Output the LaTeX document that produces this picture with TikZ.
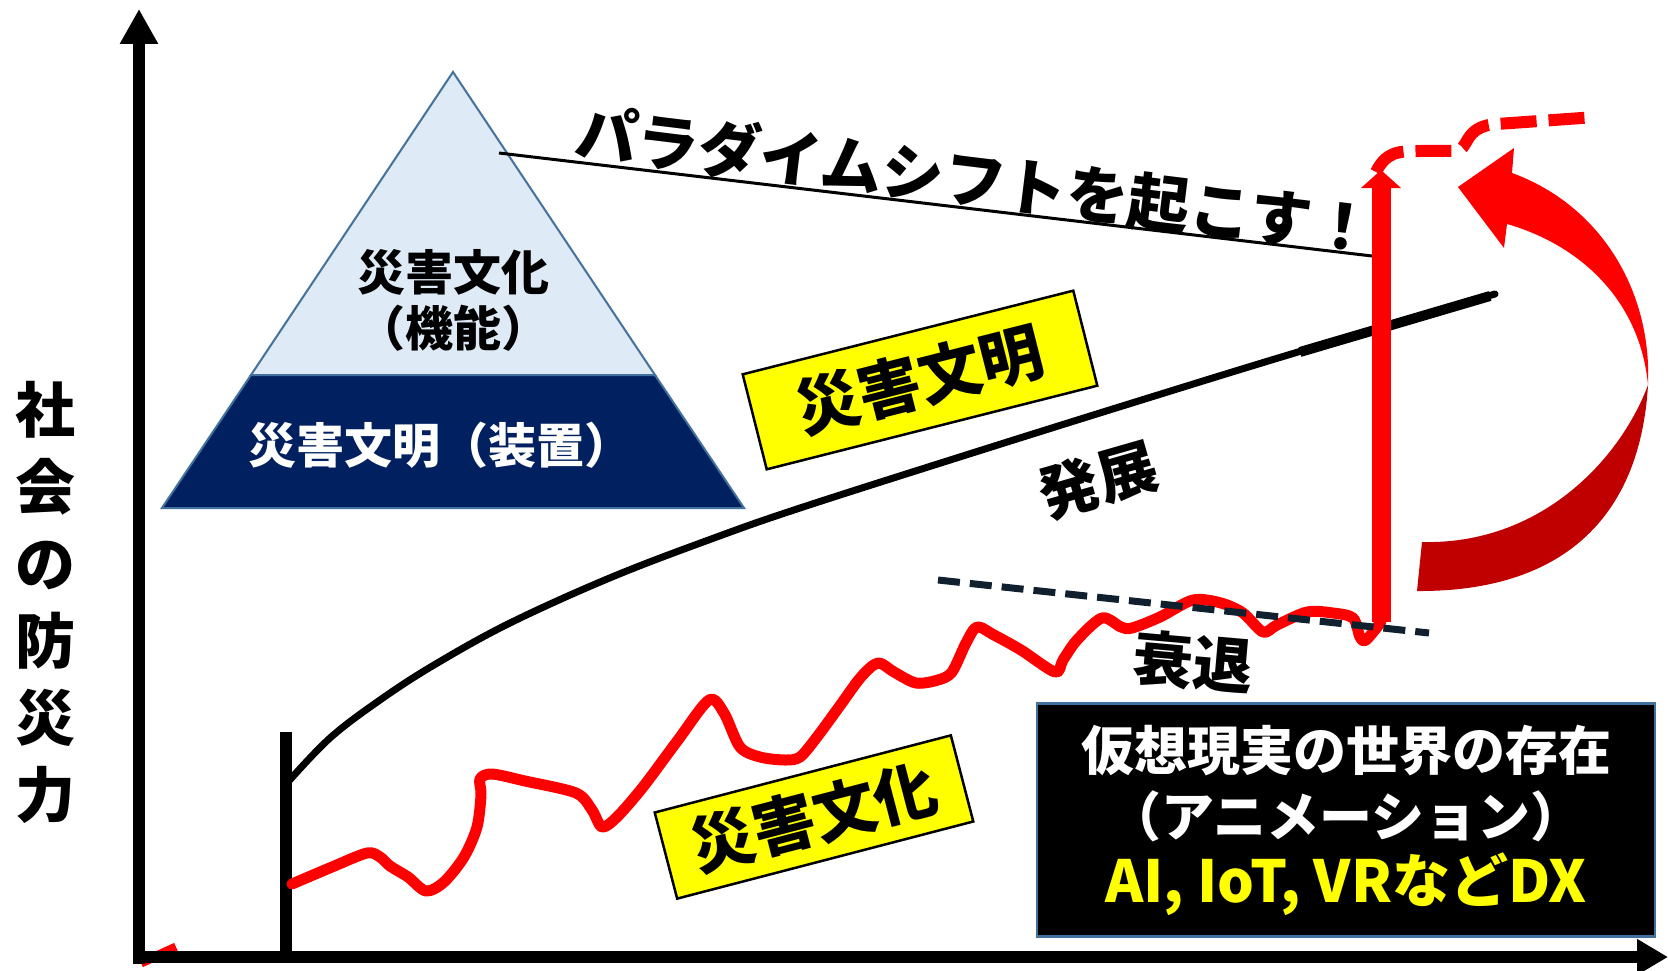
\documentclass[tikz,border=0pt]{standalone}
\usepackage{fontspec}
\newfontfamily\jp{Noto Sans CJK JP}
\usetikzlibrary{arrows.meta}
\definecolor{pyrlight}{HTML}{DEEBF7}
\definecolor{pyrdark}{HTML}{002060}
\definecolor{pyredge}{HTML}{41719C}
\definecolor{dashnavy}{HTML}{10202F}
\definecolor{darkred}{HTML}{C00000}
\definecolor{brightred}{HTML}{FF0000}
\definecolor{hiyellow}{HTML}{FFFF00}
\newcommand\jpsize[2]{\jp\bfseries\fontsize{#1}{#2}\selectfont}
\begin{document}
\begin{tikzpicture}[x=1pt,y=-1pt,
  axisline/.style={line width=12pt},
  jplabel/.style={inner sep=0pt, font=\jpsize{60}{72}},
  pyrtext/.style={inner sep=0pt, font=\jpsize{48}{56}},
  ybox/.style={draw=black, line width=2.5pt, fill=hiyellow, inner sep=0pt, font=\jpsize{63}{70}},
  redline/.style={brightred, line width=11pt, line join=round, line cap=round},
]
\useasboundingbox[fill=white] (0,0) rectangle (1668,971);

% coordinates
\coordinate (origin) at (139,957);
\coordinate (ytip) at (139,9);
\coordinate (xstart) at (133,957);
\coordinate (xtip) at (1668,957);
\coordinate (startbot) at (286,957);
\coordinate (starttop) at (286,732);
\coordinate (redfoot) at (1381,622);
\coordinate (redtop) at (1381,170);
\coordinate (pl1) at (499,153);
\coordinate (pl2) at (1372,256);
\coordinate (dl1) at (938,580);
\coordinate (dl2) at (1429,633);

% small red wedge at the origin
\draw[brightred, line width=9pt] (141,963) -- (176,947);

% axes
\draw[axisline, -{Triangle[width=36pt,length=35pt]}] (139,964) -- (ytip);
\draw[axisline, -{Triangle[width=34pt,length=31pt]}] (xstart) -- (xtip);
\draw[axisline] (startbot) -- (starttop);

% y label
\node[jplabel, align=center, font=\jpsize{60}{77}] (ylab) at (45,602) {社\\会\\の\\防\\災\\力};

% pyramid
\filldraw[fill=pyrlight, draw=pyredge, line width=2pt] (453,72) -- (655,375) -- (251,375) -- cycle;
\filldraw[fill=pyrdark, draw=pyredge, line width=2pt] (251,375) -- (655,375) -- (744,508) -- (162,508) -- cycle;
\node[pyrtext] (pcult) at (453,272) {災害文化};
\node[pyrtext] (pfunc) at (453,328) {（機能）};
\node[pyrtext, text=white] (pcivil) at (440,445) {災害文明（装置）};

% paradigm line and text
\draw[line width=3pt] (pl1) -- (pl2);
\node[jplabel, font=\jpsize{62}{70}, rotate=-7] (paradigm) at (975,180) {パラダイムシフトを起こす！};

% black development curve
\draw[line width=7pt, line cap=round] plot[smooth, tension=0.6] coordinates {(288,782) (330,738) (380,700) (434,665) (510,623) (612,577) (714,538) (800,508) (966,455) (1132,403) (1298,352) (1495,294)};
\draw[line width=10pt] (1300,352) -- (1490,296);

% red culture curve
\draw[redline] plot[smooth, tension=0.5] coordinates {(292,884) (332,867) (367,853) (380,857) (390,866) (408,877) (426,891) (444,882) (464,857) (477,827) (481,795) (480,779) (492,774) (525,781) (576,793) (592,810) (602,827) (617,817) (643,787) (678,740) (709,700) (724,713) (740,747) (760,757) (785,760) (800,757) (817,737) (839,707) (861,677) (878,663) (894,672) (916,683) (938,680) (952,672) (966,643) (977,627) (994,635) (1021,650) (1055,672) (1063,660) (1077,640) (1102,618) (1121,627) (1132,628) (1160,617) (1193,600) (1221,603) (1243,613) (1263,632) (1277,625) (1307,612) (1333,613) (1353,618) (1360,637) (1366,640) (redfoot)};

% dashed trend line
\draw[dashnavy, line width=7pt, dash pattern=on 22pt off 10pt] (dl1) -- (dl2);

% red vertical arrow and dashed continuation
\draw[brightred, line width=19pt, -{Triangle[width=39pt,length=18pt]}] (redfoot) -- (redtop);
\draw[brightred, line width=12pt, dash pattern=on 36pt off 12pt] (1376,172) .. controls (1386,152) and (1398,151) .. (1420,151) -- (1455,151) .. controls (1470,151) and (1462,126) .. (1497,124) -- (1596,117);

% big curved arrow
\fill[darkred] (1648,385) .. controls (1640,520) and (1560,592) .. (1417,591) -- (1422,542) .. controls (1540,545) and (1620,460) .. (1648,385) -- cycle;
\fill[brightred] (1458,187) -- (1514,148) -- (1512,173) .. controls (1600,205) and (1652,290) .. (1648,385) .. controls (1640,300) and (1580,245) .. (1507,224) -- (1504,248) -- cycle;

% yellow labels
\node[ybox, minimum width=341pt, minimum height=98pt, rotate=14.2] (civbox) at (920,380) {災害文明};
\node[ybox, minimum width=306pt, minimum height=89pt, rotate=14.6] (culbox) at (814,817) {災害文化};

% other labels
\node[jplabel, rotate=16] (dev) at (1098,480) {発展};
\node[jplabel, rotate=-5] (decl) at (1193,662) {衰退};

% DX box
\node[draw=pyredge, line width=2.5pt, fill=black, minimum width=618pt, minimum height=233pt, align=center, text=white, inner sep=0pt, font=\jpsize{53}{66}] (vrbox) at (1346,820) {仮想現実の世界の存在\\（アニメーション）\\{\color{hiyellow}\fontsize{58}{68}\selectfont AI, IoT, VRなどDX}};
\end{tikzpicture}
\end{document}
